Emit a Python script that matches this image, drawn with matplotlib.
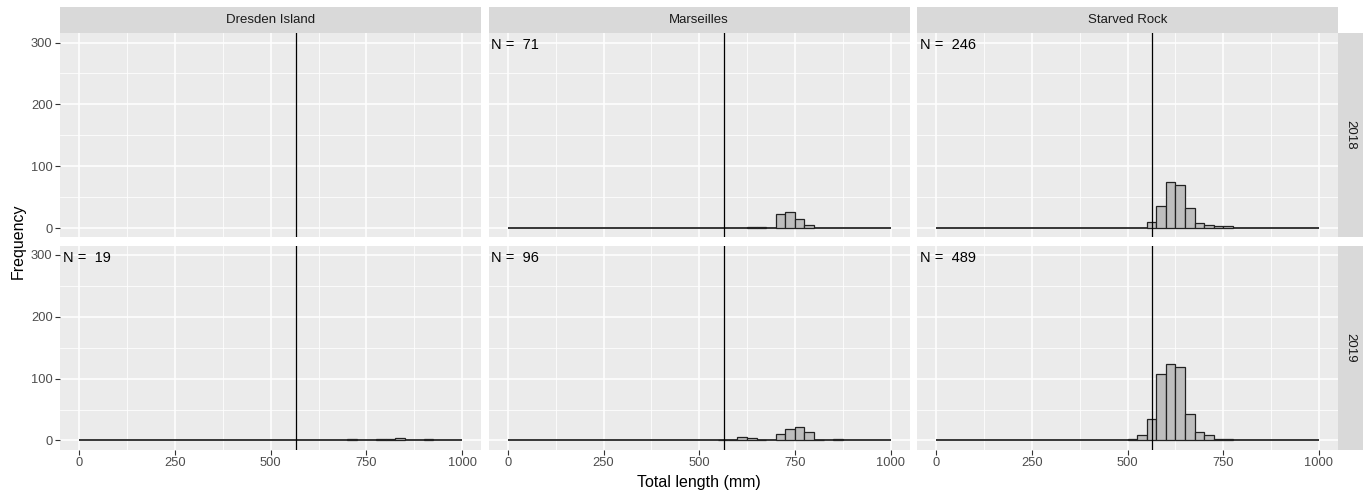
"""Total length histograms by site and year, ggplot-style facet grid."""

import numpy as np
import matplotlib
matplotlib.use("Agg")
import matplotlib.pyplot as plt

plt.rcParams.update({
    "font.family": ["Liberation Sans", "DejaVu Sans"],
})

# ── data ──────────────────────────────────────────────────────────────────────

sites = ["Dresden Island", "Marseilles", "Starved Rock"]
years = ["2018", "2019"]
bin_width = 25
x_range = (0, 1000)
cutoff_length = 565

# lower bin edges (mm) and counts per site/year
dresden_2018_bins = []
dresden_2018_counts = []
dresden_2019_bins = [700, 775, 800, 825, 900]
dresden_2019_counts = [2, 2, 2, 4, 2]

marseilles_2018_bins = [625, 650, 700, 725, 750, 775]
marseilles_2018_counts = [1, 2, 22, 26, 15, 5]
marseilles_2019_bins = [550, 575, 600, 625, 650, 700, 725, 750, 775, 800, 850]
marseilles_2019_counts = [1, 1, 5, 4, 1, 10, 19, 22, 13, 1, 3]

starved_2018_bins = [550, 575, 600, 625, 650, 675, 700, 725, 750]
starved_2018_counts = [10, 35, 75, 70, 33, 8, 5, 3, 3]
starved_2019_bins = [500, 525, 550, 575, 600, 625, 650, 675, 700, 725, 750]
starved_2019_counts = [3, 9, 34, 107, 123, 118, 43, 14, 8, 3, 3]

n_labels = {
    ("Dresden Island", "2018"): None,
    ("Dresden Island", "2019"): 19,
    ("Marseilles", "2018"): 71,
    ("Marseilles", "2019"): 96,
    ("Starved Rock", "2018"): 246,
    ("Starved Rock", "2019"): 489,
}

panels = {
    ("Dresden Island", "2018"): (dresden_2018_bins, dresden_2018_counts),
    ("Dresden Island", "2019"): (dresden_2019_bins, dresden_2019_counts),
    ("Marseilles", "2018"): (marseilles_2018_bins, marseilles_2018_counts),
    ("Marseilles", "2019"): (marseilles_2019_bins, marseilles_2019_counts),
    ("Starved Rock", "2018"): (starved_2018_bins, starved_2018_counts),
    ("Starved Rock", "2019"): (starved_2019_bins, starved_2019_counts),
}

# ── layout (pixels) ──────────────────────────────────────────────────────────

W, H = 1370, 494
left0, pw, gap_x = 60.3, 421.0, 7.4
top0, ph, gap_y = 33.3, 204.0, 8.4
strip_h, strip_w = 26.0, 25.0

PANEL_BG = "#EBEBEB"
STRIP_BG = "#D9D9D9"
TEXT_DARK = "#1A1A1A"
TICK_TEXT = "#4D4D4D"
TICK_COL = "#333333"


def px_rect(x, y, w, h):
    return [x / W, 1 - (y + h) / H, w / W, h / H]


fig = plt.figure(figsize=(W / 100, H / 100), dpi=100)

for ci, site in enumerate(sites):
    px = left0 + ci * (pw + gap_x)
    # top strip
    sax = fig.add_axes(px_rect(px, top0 - strip_h, pw, strip_h))
    sax.set_facecolor(STRIP_BG)
    sax.set_xticks([]); sax.set_yticks([])
    for s in sax.spines.values():
        s.set_visible(False)
    sax.text(0.5, 0.5, site, ha="center", va="center", fontsize=9.5, color=TEXT_DARK,
             transform=sax.transAxes)

    for ri, year in enumerate(years):
        py = top0 + ri * (ph + gap_y)
        ax = fig.add_axes(px_rect(px, py, pw, ph))
        ax.set_facecolor(PANEL_BG)
        for s in ax.spines.values():
            s.set_visible(False)
        ax.set_xlim(-50, 1050)
        ax.set_ylim(-15, 315)
        ax.set_xticks([0, 250, 500, 750, 1000])
        ax.set_yticks([0, 100, 200, 300])
        ax.set_xticks([125, 375, 625, 875], minor=True)
        ax.set_yticks([50, 150, 250], minor=True)
        ax.grid(True, which="major", color="white", linewidth=1.1)
        ax.grid(True, which="minor", color="white", linewidth=0.55)
        ax.set_axisbelow(True)
        ax.tick_params(which="major", length=3.5, width=0.8, color=TICK_COL,
                       labelsize=9.3, labelcolor=TICK_TEXT, pad=2)
        ax.tick_params(which="minor", length=0)
        if ci > 0:
            ax.tick_params(axis="y", which="major", length=0, labelleft=False)
        if ri == 0:
            ax.tick_params(axis="x", which="major", length=0, labelbottom=False)

        bins, counts = panels[(site, year)]
        if bins:
            ax.hlines(0, x_range[0], x_range[1], color="black", linewidth=1.1, zorder=2)
            ax.bar(bins, counts, width=bin_width, align="edge", color="#BEBEBE",
                   edgecolor="#222222", linewidth=0.9, zorder=3)
        ax.axvline(cutoff_length, color="black", linewidth=0.9, zorder=4)

        n = n_labels[(site, year)]
        if n is not None:
            ax.text(2.5 / pw, 1 - 5 / ph, f"N =  {n}", transform=ax.transAxes,
                    ha="left", va="top", fontsize=10.5, color="black", zorder=5)

        if ci == len(sites) - 1:
            rax = fig.add_axes(px_rect(px + pw, py, strip_w, ph))
            rax.set_facecolor(STRIP_BG)
            rax.set_xticks([]); rax.set_yticks([])
            for s in rax.spines.values():
                s.set_visible(False)
            rax.text(0.5, 0.5, year, ha="center", va="center", rotation=-90,
                     fontsize=9.5, color=TEXT_DARK, transform=rax.transAxes)

fig.text(699 / W, 1 - 482 / H, "Total length (mm)", ha="center", va="center",
         fontsize=11.5, color="black")
fig.text(18 / W, 1 - 241 / H, "Frequency", ha="center", va="center",
         rotation=90, fontsize=11.5, color="black")

fig.savefig("out.png", dpi=100, facecolor="white")
